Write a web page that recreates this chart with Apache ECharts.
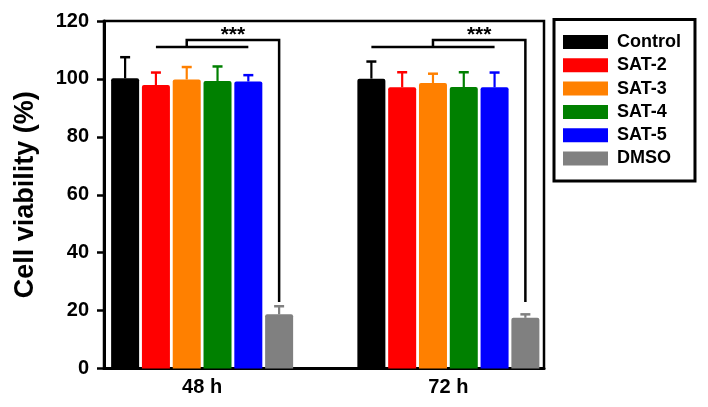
<!DOCTYPE html>
<html><head><meta charset="utf-8">
<script src="https://cdn.jsdelivr.net/npm/echarts@6/dist/echarts.min.js"></script>
<style>html,body{margin:0;padding:0;background:#fff}#c{width:708px;height:407px}</style>
</head><body><div id="c"></div>
<script>
// ---- data ----
const categories = ['48 h', '72 h'];
const seriesNames = ['Control', 'SAT-2', 'SAT-3', 'SAT-4', 'SAT-5', 'DMSO'];
const controlMean = [100.2, 100.1];
const sat2Mean = [97.9, 97.1];
const sat3Mean = [99.8, 98.6];
const sat4Mean = [99.3, 97.2];
const sat5Mean = [99.1, 97.1];
const dmsoMean = [18.7, 17.5];
const controlErr = [7.3, 5.9];
const sat2Err = [4.3, 5.2];
const sat3Err = [4.3, 3.2];
const sat4Err = [5.0, 5.1];
const sat5Err = [2.2, 5.1];
const dmsoErr = [2.8, 1.2];
const yTicks = [0, 20, 40, 60, 80, 100, 120];
// significance brackets (per time point)
const sigLabels = ['***', '***'];
const sigFrom = [1, 0];     // series index where the lower bar starts
const sigTo = [4, 4];       // series index where the lower bar ends
const sigStub = [2, 2];     // series index of the connecting stub
const sigTarget = [5, 5];   // series index the bracket drops onto
const sigLow = [111.0, 111.0];
const sigHigh = [113.4, 113.4];
const sigDrop = [23.0, 23.0];

// ---- styling ----
const colors = ['#000000', '#ff0000', '#ff8000', '#008000', '#0000ff', '#808080'];
const FONT = "'Liberation Sans', Arial, sans-serif";
const BAR_W = 28, GAP = 0.1;
const STEP = BAR_W * (1 + GAP);
const N = seriesNames.length;
const off = i => (i - (N - 1) / 2) * STEP;

const means = [controlMean, sat2Mean, sat3Mean, sat4Mean, sat5Mean, dmsoMean];
const errs = [controlErr, sat2Err, sat3Err, sat4Err, sat5Err, dmsoErr];

const errData = [];
categories.forEach((c, ci) => means.forEach((m, si) => errData.push([ci, si, m[ci], errs[si][ci]])));

const barSeries = seriesNames.map((name, i) => ({
  type: 'bar', name, xAxisIndex: 1, yAxisIndex: 1,
  data: means[i], barWidth: BAR_W, barGap: (GAP * 100) + '%',
  itemStyle: { color: colors[i], borderRadius: [2, 2, 0, 0] },
  emphasis: { disabled: true }
}));

const errSeries = {
  type: 'custom', xAxisIndex: 1, yAxisIndex: 1, data: errData,
  encode: { x: 0, y: 2 }, silent: true,
  renderItem(params, api) {
    const c = api.value(0), i = api.value(1), m = api.value(2), e = api.value(3);
    const p0 = api.coord([c, m]), p1 = api.coord([c, m + e]);
    const x = p0[0] + off(i);
    return { type: 'group', children: [
      { type: 'line', shape: { x1: x, y1: p0[1], x2: x, y2: p1[1] }, style: { stroke: colors[i], lineWidth: 2.2 } },
      { type: 'line', shape: { x1: x - 5, y1: p1[1], x2: x + 5, y2: p1[1] }, style: { stroke: colors[i], lineWidth: 2.5 } }
    ]};
  }
};

const sigSeries = {
  type: 'custom', xAxisIndex: 1, yAxisIndex: 1,
  data: categories.map((c, ci) => [ci, sigLow[ci], sigHigh[ci], sigDrop[ci]]),
  encode: { x: 0, y: [1, 2] }, silent: true,
  renderItem(params, api) {
    const c = api.value(0);
    const ctr = api.coord([c, 0])[0];
    const yl = api.coord([c, api.value(1)])[1];
    const yh = api.coord([c, api.value(2)])[1];
    const yd = api.coord([c, api.value(3)])[1];
    const xf = ctr + off(sigFrom[c]), xt = ctr + off(sigTo[c]);
    const xs = ctr + off(sigStub[c]), xe = ctr + off(sigTarget[c]);
    const st = { stroke: '#000', lineWidth: 2.5, fill: null };
    return { type: 'group', children: [
      { type: 'polyline', shape: { points: [[xf, yl], [xt, yl]] }, style: st },
      { type: 'polyline', shape: { points: [[xs, yl], [xs, yh], [xe, yh], [xe, yd]] }, style: st },
      { type: 'text', x: (xs + xe) / 2, y: yh - 5,
        style: { text: sigLabels[c], align: 'center', verticalAlign: 'middle', font: 'bold 21px ' + FONT, fill: '#000' } }
    ]};
  }
};

const chart = echarts.init(document.getElementById('c'), null, { renderer: 'canvas' });
chart.setOption({
  animation: false,
  backgroundColor: '#fff',
  textStyle: { fontFamily: FONT },
  grid: [
    { left: 104, right: 164, top: 21, bottom: 38.5, show: true, borderColor: '#000', borderWidth: 2.5,
      backgroundColor: 'transparent', containLabel: false, outerBoundsMode: 'none' },
    { left: 79, right: 136.5, top: 21, bottom: 38.5, containLabel: false, outerBoundsMode: 'none' }
  ],
  legend: {
    orient: 'vertical', left: 554, top: 19.5, data: seriesNames,
    itemWidth: 45, itemHeight: 14, itemGap: 5.3, icon: 'rect',
    borderColor: '#000', borderWidth: 3, padding: [13.5, 14, 13.5, 9], backgroundColor: '#fff',
    selectedMode: false,
    textStyle: { fontSize: 18, fontWeight: 'bold', color: '#000', fontFamily: FONT, padding: [0, 0, 0, 4] }
  },
  xAxis: [
    { gridIndex: 0, type: 'value', min: 0, max: 1,
      axisLine: { show: true, onZero: false, lineStyle: { color: '#000', width: 3 } },
      axisTick: { show: false }, axisLabel: { show: false }, splitLine: { show: false } },
    { gridIndex: 1, type: 'category', data: categories,
      axisLine: { show: false }, axisTick: { show: false },
      axisLabel: { color: '#000', fontSize: 20, fontWeight: 'bold', margin: 9, fontFamily: FONT } }
  ],
  yAxis: [
    { gridIndex: 0, type: 'value', min: yTicks[0], max: yTicks[yTicks.length - 1], interval: yTicks[1] - yTicks[0],
      name: 'Cell viability (%)', nameLocation: 'middle', nameGap: 65, nameMoveOverlap: false,
      nameTextStyle: { fontSize: 27, fontWeight: 'bold', color: '#000', fontFamily: FONT },
      axisLine: { show: true, lineStyle: { color: '#000', width: 3 } },
      axisTick: { show: true, inside: false, length: 7, lineStyle: { color: '#000', width: 2.5 } },
      axisLabel: { fontSize: 20, fontWeight: 'bold', color: '#000', margin: 15, fontFamily: FONT },
      splitLine: { show: false } },
    { gridIndex: 1, type: 'value', min: yTicks[0], max: yTicks[yTicks.length - 1], show: false, splitLine: { show: false } }
  ],
  series: [...barSeries, errSeries, sigSeries]
});
</script></body></html>
